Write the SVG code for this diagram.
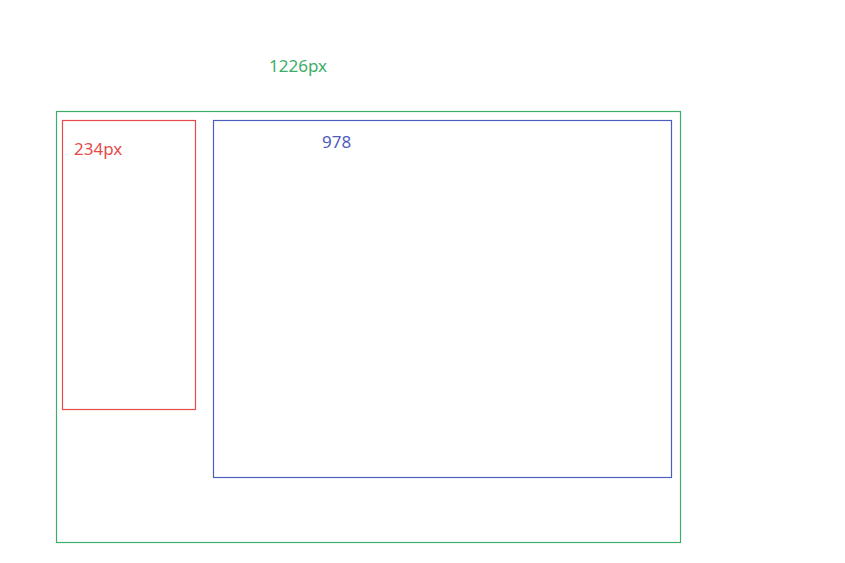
<svg xmlns="http://www.w3.org/2000/svg" width="845" height="563" viewBox="0 0 845 563">
<style>
.box{fill:none;stroke-width:1.2}
.t{font-family:"Microsoft YaHei","Noto Sans","Open Sans",sans-serif;font-size:17px}
</style>
<rect width="845" height="563" fill="#fff"/>
<g id="outer">
<rect class="box" x="56.5" y="111.5" width="624" height="431" stroke="#3dae6a"/>
<text class="t" x="269" y="72" fill="#3dae6a">1226px</text>
</g>
<g id="left">
<rect class="box" x="62.5" y="120.5" width="133" height="289" stroke="#e54b4b"/>
<text class="t" x="74" y="155" fill="#e54b4b">234px</text>
</g>
<g id="right">
<rect class="box" x="213.5" y="120.5" width="458" height="357" stroke="#4e5cc0"/>
<text class="t" x="322" y="148" fill="#4e5cc0">978</text>
</g>
<g id="connectors"/>
</svg>
